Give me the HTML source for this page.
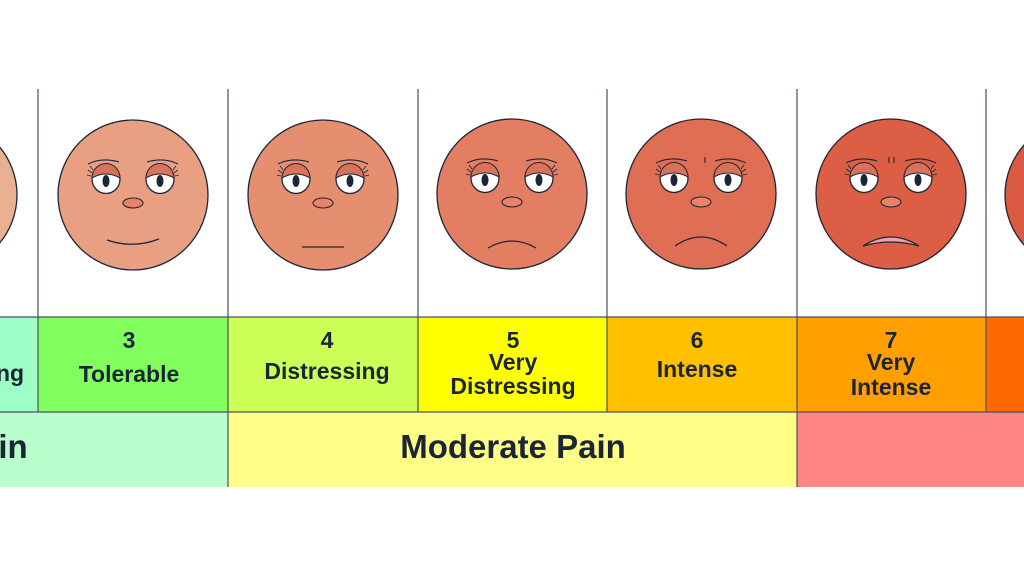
<!DOCTYPE html>
<html><head><meta charset="utf-8"><style>
html,body{margin:0;padding:0;background:#fff;width:1024px;height:576px;overflow:hidden}
svg{display:block}
text{font-family:"Liberation Sans","DejaVu Sans",sans-serif;font-weight:bold;fill:#1c2536;text-anchor:middle}
</style></head><body>
<svg width="1024" height="576" viewBox="0 0 1024 576" xmlns="http://www.w3.org/2000/svg">
<defs>
<g id="eyeL">
 <ellipse cx="0" cy="0" rx="14" ry="14.5" fill="#fff" stroke="#1c2536" stroke-width="1.3"/>
 <path d="M-14,-1 A14,14.5 0 0 1 14,-1 Q0,-9 -14,-1Z" fill="#d8735a" stroke="#1c2536" stroke-width="1"/>
 <ellipse cx="0" cy="2" rx="3.5" ry="6" fill="#1c2536"/>
 <path d="M-18,-15 Q-4,-22 13,-17" fill="none" stroke="#1c2536" stroke-width="1.1"/>
 <path d="M-14,-6 l-4,-3 M-15,-3 l-4,-1 M-13,-9 l-3,-4" stroke="#1c2536" stroke-width="0.8"/>
</g>
<g id="eyeR">
 <use href="#eyeL" transform="scale(-1,1)"/>
</g>
<g id="eyes">
 <use href="#eyeL" x="-27" y="-16"/>
 <use href="#eyeR" x="27" y="-16"/>
 <ellipse cx="0" cy="8" rx="10" ry="5" fill="#e8836a" stroke="#1c2536" stroke-width="1.1"/>
</g>
</defs>

<rect x="0" y="317" width="38" height="95" fill="#9dffc6"/>
<rect x="38" y="317" width="190" height="95" fill="#80ff5e"/>
<rect x="228" y="317" width="190" height="95" fill="#ccff57"/>
<rect x="418" y="317" width="189" height="95" fill="#ffff00"/>
<rect x="607" y="317" width="190" height="95" fill="#ffc000"/>
<rect x="797" y="317" width="189" height="95" fill="#ffa000"/>
<rect x="986" y="317" width="38" height="95" fill="#ff6a00"/>
<rect x="0" y="412" width="228" height="75" fill="#b8fdcb"/>
<rect x="228" y="412" width="569" height="75" fill="#ffff88"/>
<rect x="797" y="412" width="227" height="75" fill="#ff8585"/>

<g stroke="#4a5060" stroke-width="1.2">
 <line x1="38" y1="89" x2="38" y2="412"/>
 <line x1="228" y1="89" x2="228" y2="487"/>
 <line x1="418" y1="89" x2="418" y2="412"/>
 <line x1="607" y1="89" x2="607" y2="412"/>
 <line x1="797" y1="89" x2="797" y2="487"/>
 <line x1="986" y1="89" x2="986" y2="412"/>
 <line x1="0" y1="317" x2="1024" y2="317"/>
 <line x1="0" y1="412" x2="1024" y2="412"/>
</g>

<circle cx="-58" cy="195" r="75" fill="#eab092" stroke="#1c2536" stroke-width="1.3"/>
<circle cx="1080" cy="195" r="75" fill="#d95a40" stroke="#1c2536" stroke-width="1.3"/>

<g transform="translate(133,195)">
 <circle r="75" fill="#e9a082" stroke="#1c2536" stroke-width="1.3"/>
 <use href="#eyes"/>
 <path d="M-26,45 Q0,54 26,44" fill="none" stroke="#1c2536" stroke-width="1.3"/>
</g>
<g transform="translate(323,195)">
 <circle r="75" fill="#e68e70" stroke="#1c2536" stroke-width="1.3"/>
 <use href="#eyes"/>
 <path d="M-21,52 L21,52" fill="none" stroke="#1c2536" stroke-width="1.3"/>
</g>
<g transform="translate(512,194)">
 <circle r="75" fill="#e47e62" stroke="#1c2536" stroke-width="1.3"/>
 <use href="#eyes"/>
 <path d="M-24,54 Q0,40 24,54" fill="none" stroke="#1c2536" stroke-width="1.3"/>
</g>
<g transform="translate(701,194)">
 <circle r="75" fill="#e06e55" stroke="#1c2536" stroke-width="1.3"/>
 <use href="#eyes"/>
 <path d="M4,-37 v6" stroke="#1c2536" stroke-width="1.1"/>
 <path d="M-26,52 Q0,34 26,52" fill="none" stroke="#1c2536" stroke-width="1.3"/>
</g>
<g transform="translate(891,194)">
 <circle r="75" fill="#dc5e44" stroke="#1c2536" stroke-width="1.3"/>
 <use href="#eyes"/>
 <path d="M-2,-37 v6 M3,-37 v6" stroke="#1c2536" stroke-width="1.1"/>
 <path d="M-28,52 Q0,34 28,52 Q0,44 -28,52Z" fill="#f0a0a8" stroke="#1c2536" stroke-width="1.2"/>
</g>

<g font-size="23">
 <text x="10" y="381">ng</text>
 <text x="129" y="348">3</text>
 <text x="129" y="382">Tolerable</text>
 <text x="327" y="348">4</text>
 <text x="327" y="379">Distressing</text>
 <text x="513" y="348">5</text>
 <text x="513" y="370">Very</text>
 <text x="513" y="394">Distressing</text>
 <text x="697" y="348">6</text>
 <text x="697" y="377">Intense</text>
 <text x="891" y="348">7</text>
 <text x="891" y="370">Very</text>
 <text x="891" y="395">Intense</text>
</g>
<text x="13" y="458" font-size="33">in</text>
<text x="513" y="458" font-size="33">Moderate Pain</text>
</svg>
</body></html>
